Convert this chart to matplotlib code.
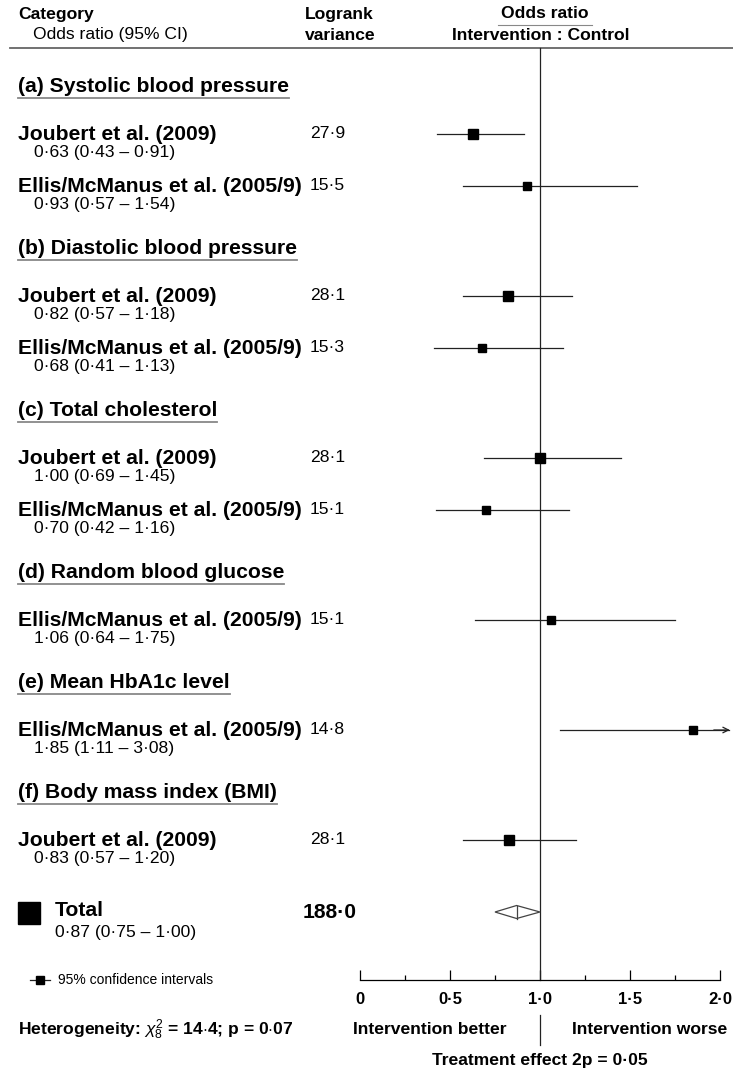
import matplotlib
matplotlib.use("Agg")
import matplotlib.pyplot as plt
from matplotlib.patches import Polygon

plt.rcParams['font.family'] = ['Liberation Sans', 'DejaVu Sans']
plt.rcParams['mathtext.fontset'] = 'custom'
plt.rcParams['mathtext.rm'] = 'Liberation Sans'
plt.rcParams['mathtext.it'] = 'Liberation Sans:italic'
plt.rcParams['mathtext.bf'] = 'Liberation Sans:bold'

# data
categories = ["(a) Systolic blood pressure", "(b) Diastolic blood pressure",
              "(c) Total cholesterol", "(d) Random blood glucose",
              "(e) Mean HbA1c level", "(f) Body mass index (BMI)"]
studies = [["Joubert et al. (2009)", "Ellis/McManus et al. (2005/9)"],
           ["Joubert et al. (2009)", "Ellis/McManus et al. (2005/9)"],
           ["Joubert et al. (2009)", "Ellis/McManus et al. (2005/9)"],
           ["Ellis/McManus et al. (2005/9)"],
           ["Ellis/McManus et al. (2005/9)"],
           ["Joubert et al. (2009)"]]
odds = [[0.63, 0.93], [0.82, 0.68], [1.00, 0.70], [1.06], [1.85], [0.83]]
ci_lo = [[0.43, 0.57], [0.57, 0.41], [0.69, 0.42], [0.64], [1.11], [0.57]]
ci_hi = [[0.91, 1.54], [1.18, 1.13], [1.45, 1.16], [1.75], [3.08], [1.20]]
variance = [[27.9, 15.5], [28.1, 15.3], [28.1, 15.1], [15.1], [14.8], [28.1]]
total_or, total_lo, total_hi, total_var = 0.87, 0.75, 1.00, 188.0
xticks = [0, 0.5, 1.0, 1.5, 2.0]


def dot(v, fmt="{:.2f}"):
    return fmt.format(v).replace(".", "\u00b7")


W, H = 733, 1070
fig = plt.figure(figsize=(W / 100, H / 100), dpi=100)
# text layer in pixel units
tx = fig.add_axes([0, 0, 1, 1])
tx.set_xlim(0, W)
tx.set_ylim(H, 0)
tx.axis("off")
# forest plot layer
ax = fig.add_axes([360 / W, 0, 360 / W, 1])
ax.set_xlim(0, 2)
ax.set_ylim(H, 0)
ax.patch.set_alpha(0)
for s in ["top", "left", "right"]:
    ax.spines[s].set_visible(False)
ax.spines["bottom"].set_position(("data", 980))
ax.spines["bottom"].set_linewidth(0.9)
ax.set_yticks([])
ax.set_xticks(xticks)
ax.set_xticklabels([dot(t, "{:.1f}") if t else "0" for t in xticks],
                   fontsize=12, fontweight="bold")
ax.set_xticks([0.25, 0.75, 1.25, 1.75], minor=True)
ax.tick_params(axis="x", which="major", direction="in", length=7, width=0.9, pad=9)
ax.tick_params(axis="x", which="minor", direction="in", length=3.5, width=0.9)

ink = "#222222"
fs_big, fs_txt = 15.2, 12.6

# header
tx.text(18, 14, "Category", fontsize=fs_txt, fontweight="bold", va="center")
tx.text(33, 35, "Odds ratio (95% CI)", fontsize=fs_txt, va="center")
tx.text(305, 14, "Logrank", fontsize=fs_txt, fontweight="bold", va="center")
tx.text(305, 35, "variance", fontsize=fs_txt, fontweight="bold", va="center")
tx.text(545, 14, "Odds ratio", fontsize=fs_txt, fontweight="bold", va="center",
        ha="center")
tx.text(541, 35, "Intervention : Control", fontsize=fs_txt, fontweight="bold",
        va="center", ha="center")
tx.plot([498, 592], [24.5, 24.5], color="#888888", lw=0.8)
tx.plot([10, W], [48, 48], color="#666666", lw=1.3)

ax.plot([1, 1], [48, 980], color=ink, lw=0.9)

fig.canvas.draw()
rend = fig.canvas.get_renderer()

y = 87
for ci, cat in enumerate(categories):
    t = tx.text(18, y, cat, fontsize=fs_big, fontweight="bold", va="center")
    bb = t.get_window_extent(rend)
    tx.plot([18, bb.x1], [y + 11, y + 11], color="#888888", lw=1.3)
    y += 47
    for si, name in enumerate(studies[ci]):
        o, lo, hi, v = odds[ci][si], ci_lo[ci][si], ci_hi[ci][si], variance[ci][si]
        tx.text(18, y, name, fontsize=fs_big, fontweight="bold", va="center")
        tx.text(34, y + 19, f"{dot(o)} ({dot(lo)} \u2013 {dot(hi)})", fontsize=fs_txt,
                va="center")
        tx.text(310, y, dot(v, "{:.1f}"), fontsize=fs_txt, va="center")
        if hi > 2:
            ax.plot([lo, 2.05], [y, y], color=ink, lw=0.9, clip_on=False)
            ax.annotate("", xy=(2.07, y), xytext=(1.95, y), annotation_clip=False,
                        arrowprops=dict(arrowstyle="->", color=ink, lw=0.9))
        else:
            ax.plot([lo, hi], [y, y], color=ink, lw=0.9)
        side = 1.9 * v ** 0.5
        ax.plot([o], [y], marker="s", color="black", markersize=side * 0.72,
                linestyle="none")
        y += 52
    y += 11

# total
y = 912
tx.plot([29], [y + 1], marker="s", color="black", markersize=22 * 0.72)
tx.text(55, y - 1, "Total", fontsize=fs_big, fontweight="bold", va="center")
tx.text(55, y + 20, f"{dot(total_or)} ({dot(total_lo)} \u2013 {dot(total_hi)})",
        fontsize=fs_txt, va="center")
tx.text(303, y, dot(total_var, "{:.1f}"), fontsize=fs_big, fontweight="bold",
        va="center")
dh = 6.5
ax.add_patch(Polygon([(total_lo, y), (total_or, y - dh), (total_hi, y),
                      (total_or, y + dh)], closed=True, facecolor="white",
                     edgecolor="#444444", lw=0.9, zorder=3))
ax.plot([total_or, total_or], [y - dh, y + dh], color="#444444", lw=0.9, zorder=4)

# legend
tx.plot([30, 50], [980, 980], color=ink, lw=0.9)
tx.plot([40], [980], marker="s", color="black", markersize=6)
tx.text(58, 980, "95% confidence intervals", fontsize=10, va="center")

# bottom labels
tx.text(18, 1030, r"Heterogeneity: $\chi^2_8$ = 14$\cdot$4; p = 0$\cdot$07",
        fontsize=fs_txt, fontweight="bold", va="center")
tx.text(430, 1030, "Intervention better", fontsize=fs_txt, fontweight="bold",
        va="center", ha="center")
tx.text(650, 1030, "Intervention worse", fontsize=fs_txt, fontweight="bold",
        va="center", ha="center")
tx.plot([540, 540], [1015, 1045], color=ink, lw=0.9)
tx.text(540, 1060, "Treatment effect 2p = 0\u00b705", fontsize=fs_txt,
        fontweight="bold", va="center", ha="center")

fig.savefig("out.png", dpi=100)
